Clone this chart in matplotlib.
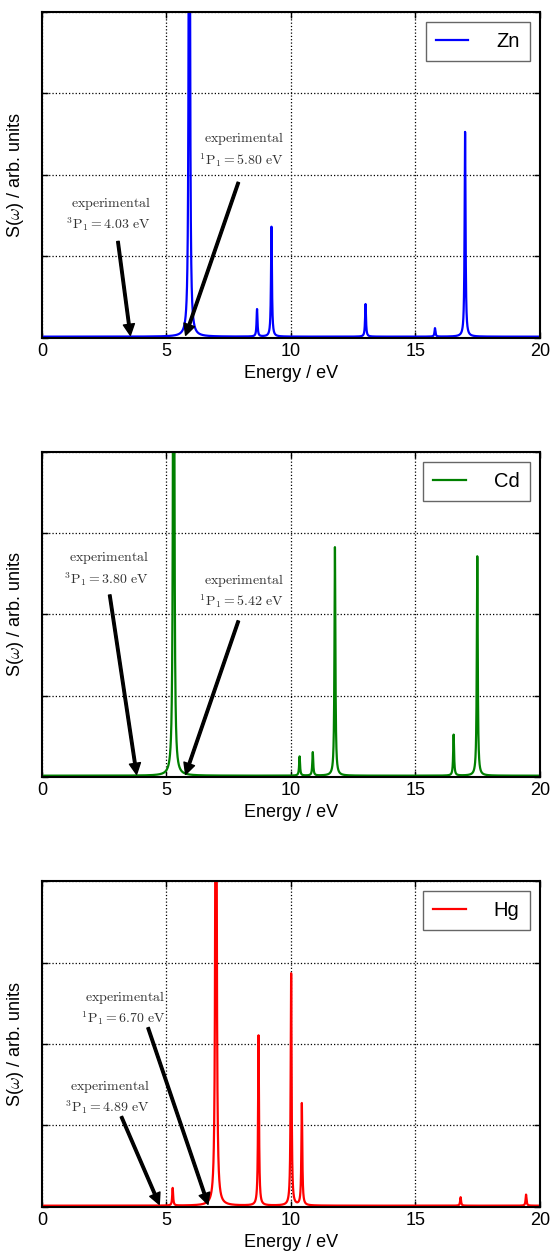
import numpy as np
import matplotlib
matplotlib.use("agg")
import matplotlib.pyplot as plt

plt.rcParams['font.family'] = ['Liberation Sans', 'DejaVu Sans']
plt.rcParams['mathtext.fontset'] = 'cm'

# peak positions (eV) and heights (arb. units, axis top = 1)
zn_pos = [5.92, 8.64, 9.22, 13.00, 15.79, 17.00]
zn_amp = [3.00, 0.084, 0.337, 0.100, 0.026, 0.628]
cd_pos = [5.29, 10.35, 10.88, 11.77, 16.54, 17.49]
cd_amp = [3.00, 0.059, 0.072, 0.703, 0.126, 0.675]
hg_pos = [5.25, 6.99, 8.70, 10.01, 10.44, 16.82, 19.45]
hg_amp = [0.054, 3.00, 0.522, 0.712, 0.313, 0.026, 0.034]

# annotations: (text right edge x, line1 y, line2 y, tail x, tail y, head x, label)
zn_notes = [(4.37, 0.413, 0.350, 3.05, 0.296, 3.55, r'$^{3}\mathrm{P}_1 = 4.03\ \mathrm{eV}$'),
            (9.72, 0.612, 0.546, 7.89, 0.477, 5.77, r'$^{1}\mathrm{P}_1 = 5.80\ \mathrm{eV}$')]
cd_notes = [(4.28, 0.675, 0.610, 2.72, 0.560, 3.80, r'$^{3}\mathrm{P}_1 = 3.80\ \mathrm{eV}$'),
            (9.72, 0.606, 0.540, 7.89, 0.480, 5.77, r'$^{1}\mathrm{P}_1 = 5.42\ \mathrm{eV}$')]
hg_notes = [(4.33, 0.371, 0.308, 3.19, 0.277, 4.71, r'$^{3}\mathrm{P}_1 = 4.89\ \mathrm{eV}$'),
            (4.96, 0.644, 0.581, 4.26, 0.550, 6.67, r'$^{1}\mathrm{P}_1 = 6.70\ \mathrm{eV}$')]

panels = [("Zn", "blue", zn_pos, zn_amp, zn_notes, [0.076, 0.7305, 0.900, 0.260]),
          ("Cd", "green", cd_pos, cd_amp, cd_notes, [0.076, 0.3804, 0.900, 0.2592]),
          ("Hg", "red", hg_pos, hg_amp, hg_notes, [0.076, 0.0375, 0.900, 0.2599])]

gamma = 0.022
e = np.linspace(0, 20, 8001)

fig = plt.figure(figsize=(5.53, 12.54), dpi=100)
for name, col, pos, amp, notes, rect in panels:
    ax = fig.add_axes(rect)
    s = np.zeros_like(e)
    for p, a in zip(pos, amp):
        s += a * gamma**2 / ((e - p)**2 + gamma**2)
    ax.plot(e, s + 0.004, color=col, lw=1.6, label=name)
    ax.set_xlim(0, 20)
    ax.set_ylim(0, 1)
    ax.set_xticks([0, 5, 10, 15, 20])
    ax.set_yticks([0, 0.25, 0.5, 0.75, 1.0])
    ax.set_yticklabels([])
    ax.tick_params(direction='in', top=True, right=True, labelsize=13, length=4, width=1)
    ax.grid(True, color='black', linestyle=':', linewidth=0.9)
    for sp in ax.spines.values():
        sp.set_linewidth(1.5)
    ax.set_xlabel("Energy / eV", fontsize=13, labelpad=4)
    ax.set_ylabel(r"S($\omega$) / arb. units", fontsize=13, labelpad=8)
    for tx, ty1, ty2, x0, y0, x1, lab in notes:
        ax.text(tx, ty1, r'$\mathrm{experimental}$', ha='right', va='center',
                fontsize=10, color='0.2')
        ax.text(tx, ty2, lab, ha='right', va='center', fontsize=10, color='0.2')
        ax.annotate("", xy=(x1, 0.008), xytext=(x0, y0),
                    arrowprops=dict(facecolor='black', edgecolor='black', width=1.8,
                                    headwidth=8, headlength=8, shrink=0))
    leg = ax.legend(loc='upper right', fontsize=14.5, fancybox=False, handlelength=1.6,
                    handletextpad=1.4, borderaxespad=0.5, borderpad=0.5)
    leg.get_frame().set_edgecolor('0.25')
    leg.get_frame().set_linewidth(1.0)

fig.savefig("out.png", dpi=100)
